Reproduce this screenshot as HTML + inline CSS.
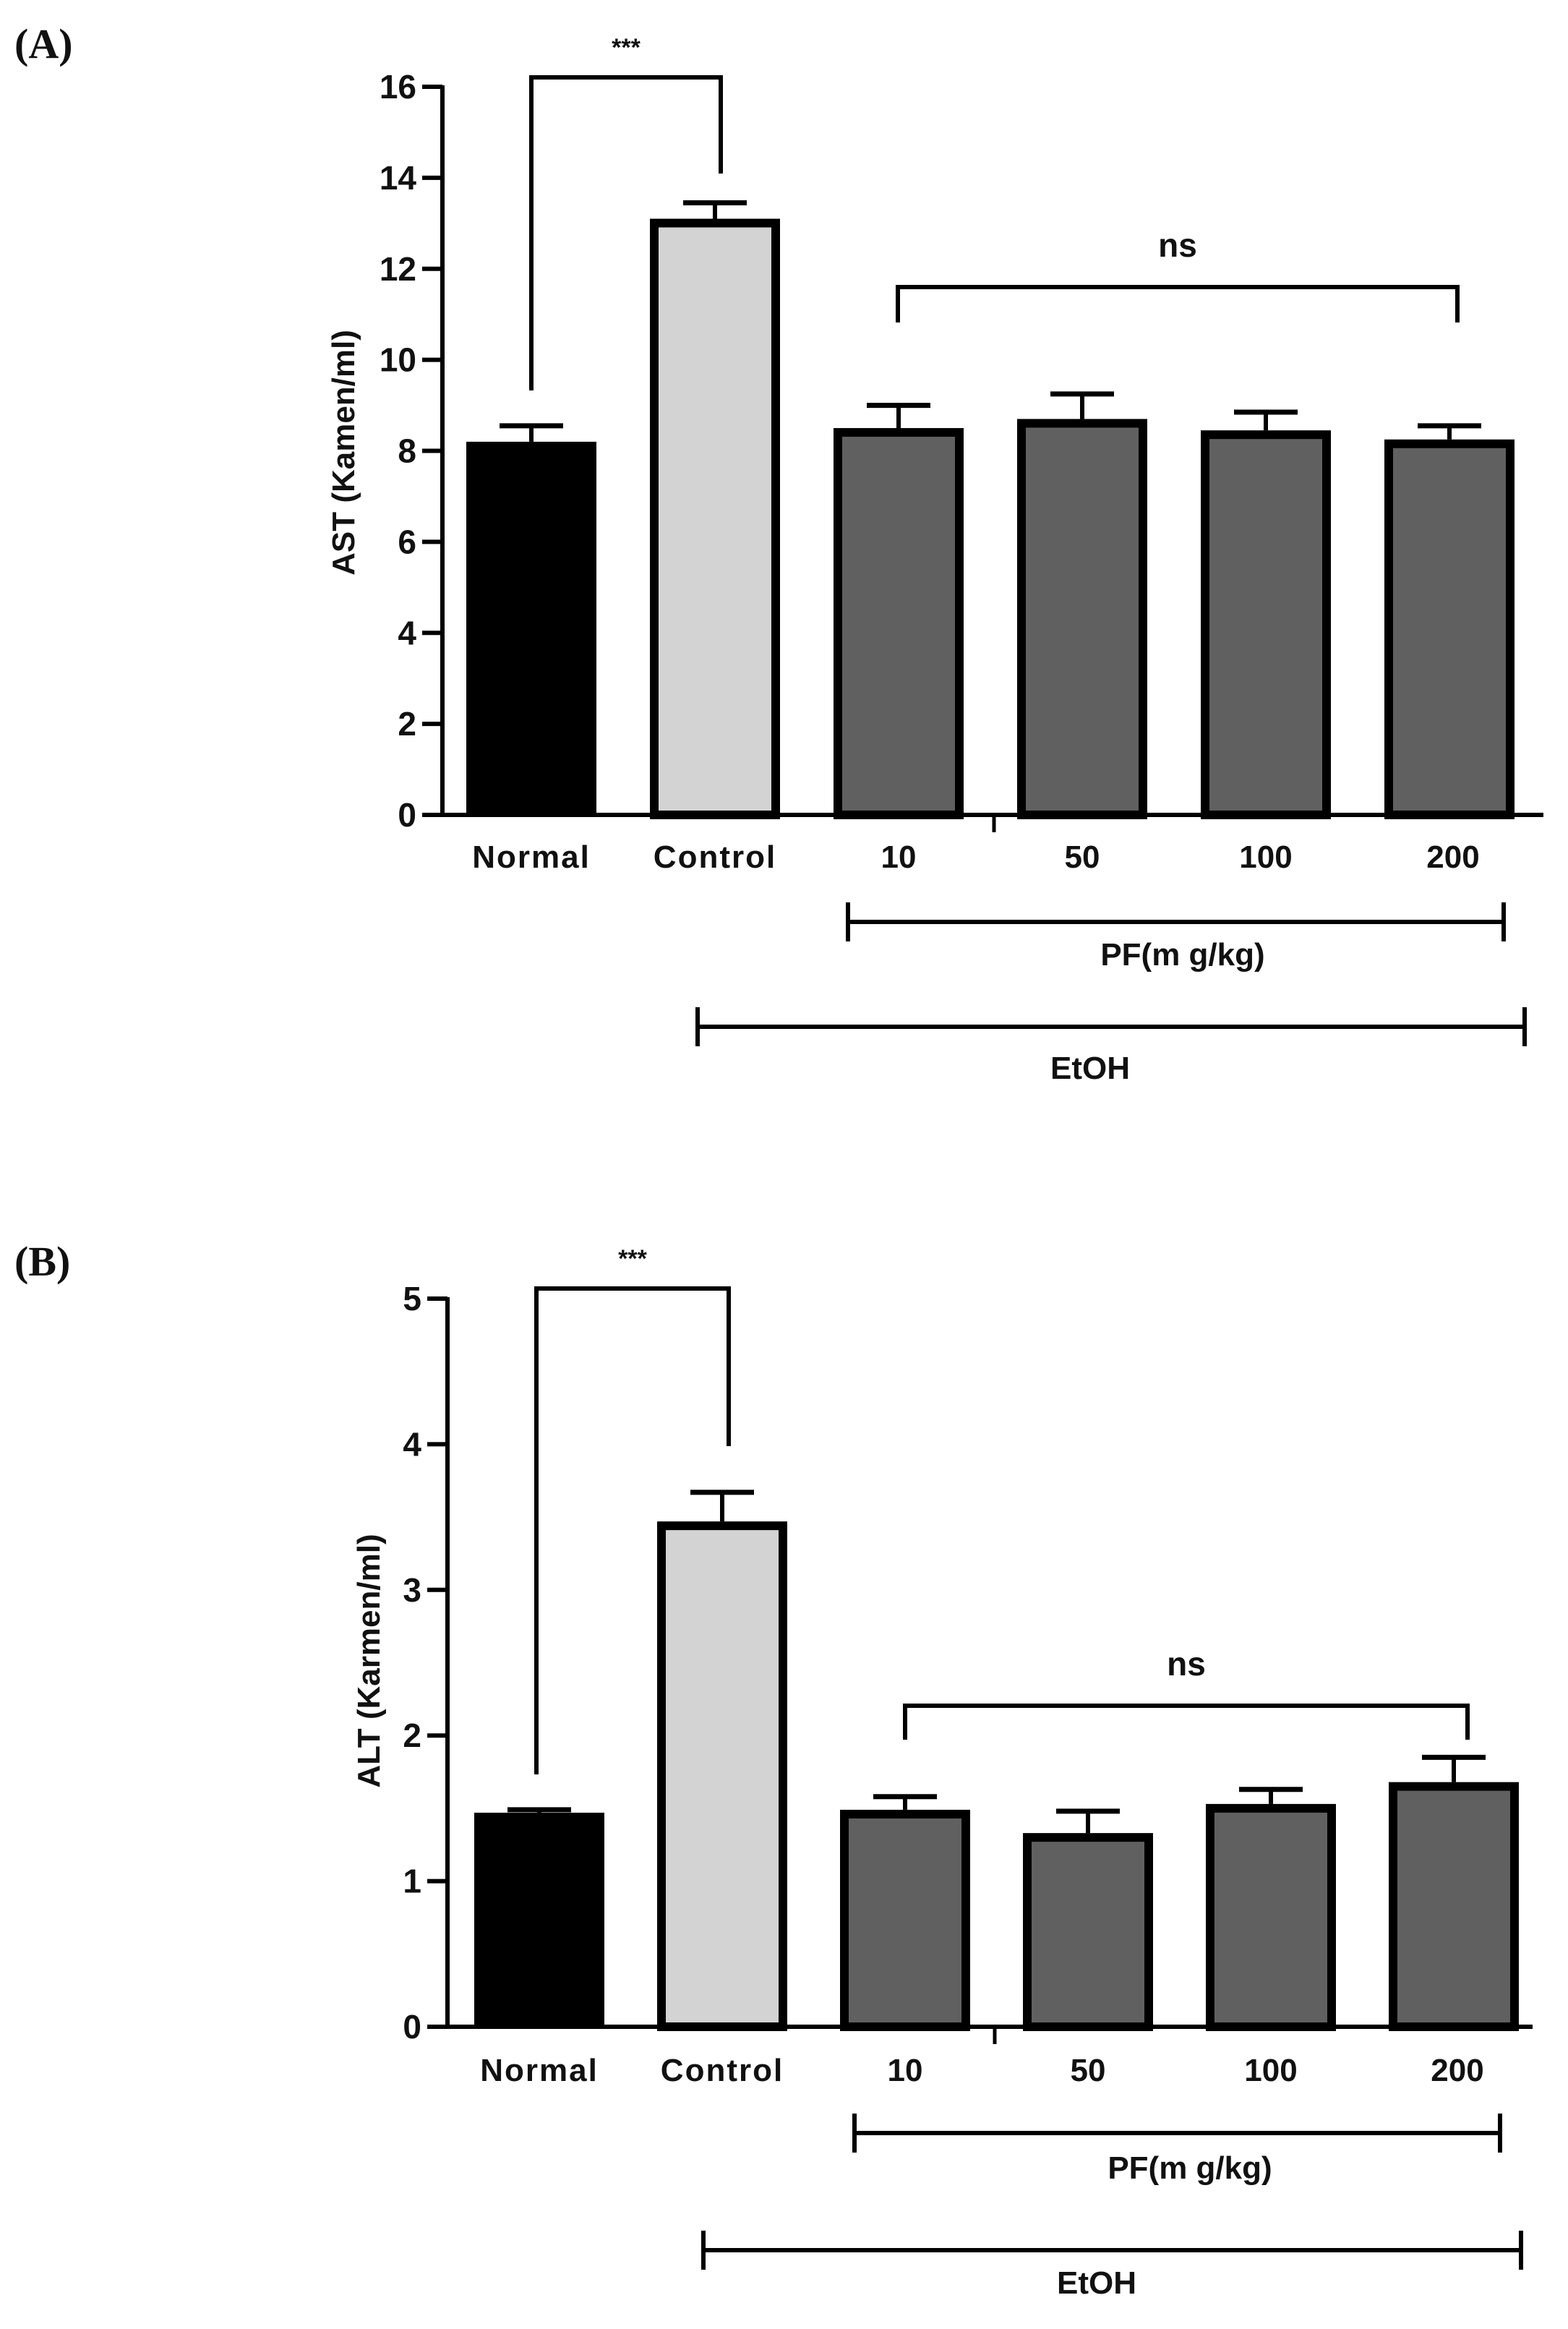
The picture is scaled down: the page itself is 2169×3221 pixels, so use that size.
<!DOCTYPE html>
<html><head><meta charset="utf-8"><style>
html,body{margin:0;padding:0;background:#fff;}
svg{display:block;}
text{font-family:"Liberation Sans",Arial,sans-serif;font-weight:bold;fill:#111;}
</style></head>
<body>
<svg id="fig" width="2169" height="3221" viewBox="0 0 2169 3221" xmlns="http://www.w3.org/2000/svg">
<text x="20" y="80" style="font-family:'Liberation Serif',serif;font-size:58px">(A)</text>
<text x="20" y="1764" style="font-family:'Liberation Serif',serif;font-size:58px">(B)</text>
</svg>
<script>
const categories = ["Normal","Control","10","50","100","200"];
const astValues = [8.2, 13.1, 8.5, 8.7, 8.45, 8.25];
const astErrors = [0.35, 0.35, 0.5, 0.55, 0.4, 0.3];
const altValues = [1.47, 3.47, 1.49, 1.33, 1.53, 1.68];
const altErrors = [0.02, 0.2, 0.09, 0.15, 0.1, 0.17];
const astTicks = [0,2,4,6,8,10,12,14,16];
const altTicks = [0,1,2,3,4,5];
const fills = ["#000000","#d3d3d3","#606060","#606060","#606060","#606060"];

const NS = "http://www.w3.org/2000/svg";
const svg = document.getElementById("fig");
function el(tag, attrs, parent){
  const e = document.createElementNS(NS, tag);
  for (const k in attrs) e.setAttribute(k, attrs[k]);
  (parent||svg).appendChild(e);
  return e;
}

function drawPanel(cfg){
  const g = el("g", {});
  
  
  const yScale = v => cfg.y0 - (v - cfg.ymin) / (cfg.ymax - cfg.ymin) * (cfg.y0 - cfg.y1);
  const xCenter = i => cfg.x0 + i * cfg.step;
  const ya = el("line", {x1:cfg.ax, y1:yScale(cfg.ymax)-2, x2:cfg.ax, y2:cfg.y0+3, stroke:"#000","stroke-width":6}, g);
  
  
  cfg.ticks.forEach(t => {
    const y = yScale(t);
    const tl = el("line", {x1:cfg.ax-28, y1:y, x2:cfg.ax, y2:y, stroke:"#000","stroke-width":6}, g);
    
    
    const tx = el("text", {x:cfg.ax-36, y:y+16, "text-anchor":"end","font-size":46}, g);
    tx.textContent = t;
    
    
  });
  const xa = el("line", {x1:cfg.ax-3, y1:cfg.y0, x2:cfg.axEnd, y2:cfg.y0, stroke:"#000","stroke-width":6}, g);
  
  
  const mt = el("line", {x1:cfg.minorX, y1:cfg.y0, x2:cfg.minorX, y2:cfg.y0+24, stroke:"#000","stroke-width":5}, g);
  
  
  cfg.values.forEach((v, i) => {
    const cx = xCenter(i);
    const bw = cfg.barW;
    const top = yScale(v);
    const eb = yScale(v + cfg.errors[i]);
    const e1 = el("line", {x1:cx, y1:top, x2:cx, y2:eb, stroke:"#000","stroke-width":6}, g);
    
    
    const e2 = el("line", {x1:cx-44, y1:eb, x2:cx+44, y2:eb, stroke:"#000","stroke-width":7}, g);
    
    
    const sw = i === 0 ? 0 : 12;
    const r = el("rect", {x:cx-bw/2+sw/2, y:top+sw/2, width:bw-sw, height:cfg.y0-top-sw/2, fill:fills[i], stroke:"#000","stroke-width":sw}, g);
    
    
    const lb = el("text", {x:cx + (cfg.labelDx[i]||0), y:cfg.labelY, "text-anchor":"middle","font-size":44,"letter-spacing":i<2?"2":"0"}, g);
    lb.textContent = categories[i];
    
    
  });
  const b1 = el("polyline", {points:`${cfg.sb.l},${cfg.sb.lb} ${cfg.sb.l},${cfg.sb.top} ${cfg.sb.r},${cfg.sb.top} ${cfg.sb.r},${cfg.sb.rb}`, fill:"none", stroke:"#000","stroke-width":6}, g);
  
  
  const st = el("text", {x:(cfg.sb.l+cfg.sb.r)/2, y:cfg.sb.top-30, "text-anchor":"middle","font-size":34,"font-weight":"normal"}, g);
  st.textContent = "***";
  
  
  const b2 = el("polyline", {points:`${cfg.ns.l},${cfg.ns.b} ${cfg.ns.l},${cfg.ns.top} ${cfg.ns.r},${cfg.ns.top} ${cfg.ns.r},${cfg.ns.b}`, fill:"none", stroke:"#000","stroke-width":6}, g);
  
  
  const nt = el("text", {x:(cfg.ns.l+cfg.ns.r)/2, y:cfg.ns.top-42, "text-anchor":"middle","font-size":46}, g);
  nt.textContent = "ns";
  
  
  [[cfg.pf, "PF(m g/kg)", "pf-group"], [cfg.et, "EtOH", "etoh-group"]].forEach(([b, txt, nm]) => {
    const l = el("line", {x1:b.l, y1:b.y, x2:b.r, y2:b.y, stroke:"#000","stroke-width":6}, g);
    
    
    [b.l, b.r].forEach(x => {
      const t = el("line", {x1:x, y1:b.y-27, x2:x, y2:b.y+27, stroke:"#000","stroke-width":6}, g);
      
      
    });
    const tt = el("text", {x:b.tx, y:b.ty, "text-anchor":"middle","font-size":44}, g);
    tt.textContent = txt;
    
    
  });
  const yt = el("text", {x:0, y:0, "text-anchor":"middle","font-size":44, transform:`translate(${cfg.ytx},${cfg.yty}) rotate(-90)`}, g);
  yt.textContent = cfg.ytitle;
  
  
}

drawPanel({
  id:"ast", values:astValues, errors:astErrors, ticks:astTicks, ymin:0, ymax:16,
  y0:1127, y1:120, ax:612, axEnd:2135, x0:735, step:254, barW:180, minorX:1375,
  labelY:1200, labelDx:[0,0,0,0,0,5],
  sb:{l:735, r:997, top:107, lb:540, rb:240},
  ns:{l:1242, r:2016, top:397, b:446},
  pf:{l:1173, r:2080, y:1275, tx:1636, ty:1335},
  et:{l:965, r:2109, y:1420, tx:1508, ty:1492},
  ytitle:"AST (Kamen/ml)", ytx:490, yty:626
});
drawPanel({
  id:"alt", values:altValues, errors:altErrors, ticks:altTicks, ymin:0, ymax:5,
  y0:2803, y1:1796, ax:619, axEnd:2120, x0:746, step:253, barW:180, minorX:1376,
  labelY:2878, labelDx:[0,0,0,0,0,5],
  sb:{l:742, r:1008, top:1782, lb:2454, rb:2000},
  ns:{l:1252, r:2030, top:2359, b:2406},
  pf:{l:1182, r:2075, y:2950, tx:1646, ty:3013},
  et:{l:973, r:2104, y:3112, tx:1517, ty:3172},
  ytitle:"ALT (Karmen/ml)", ytx:525, yty:2297
});
</script>
</body></html>
